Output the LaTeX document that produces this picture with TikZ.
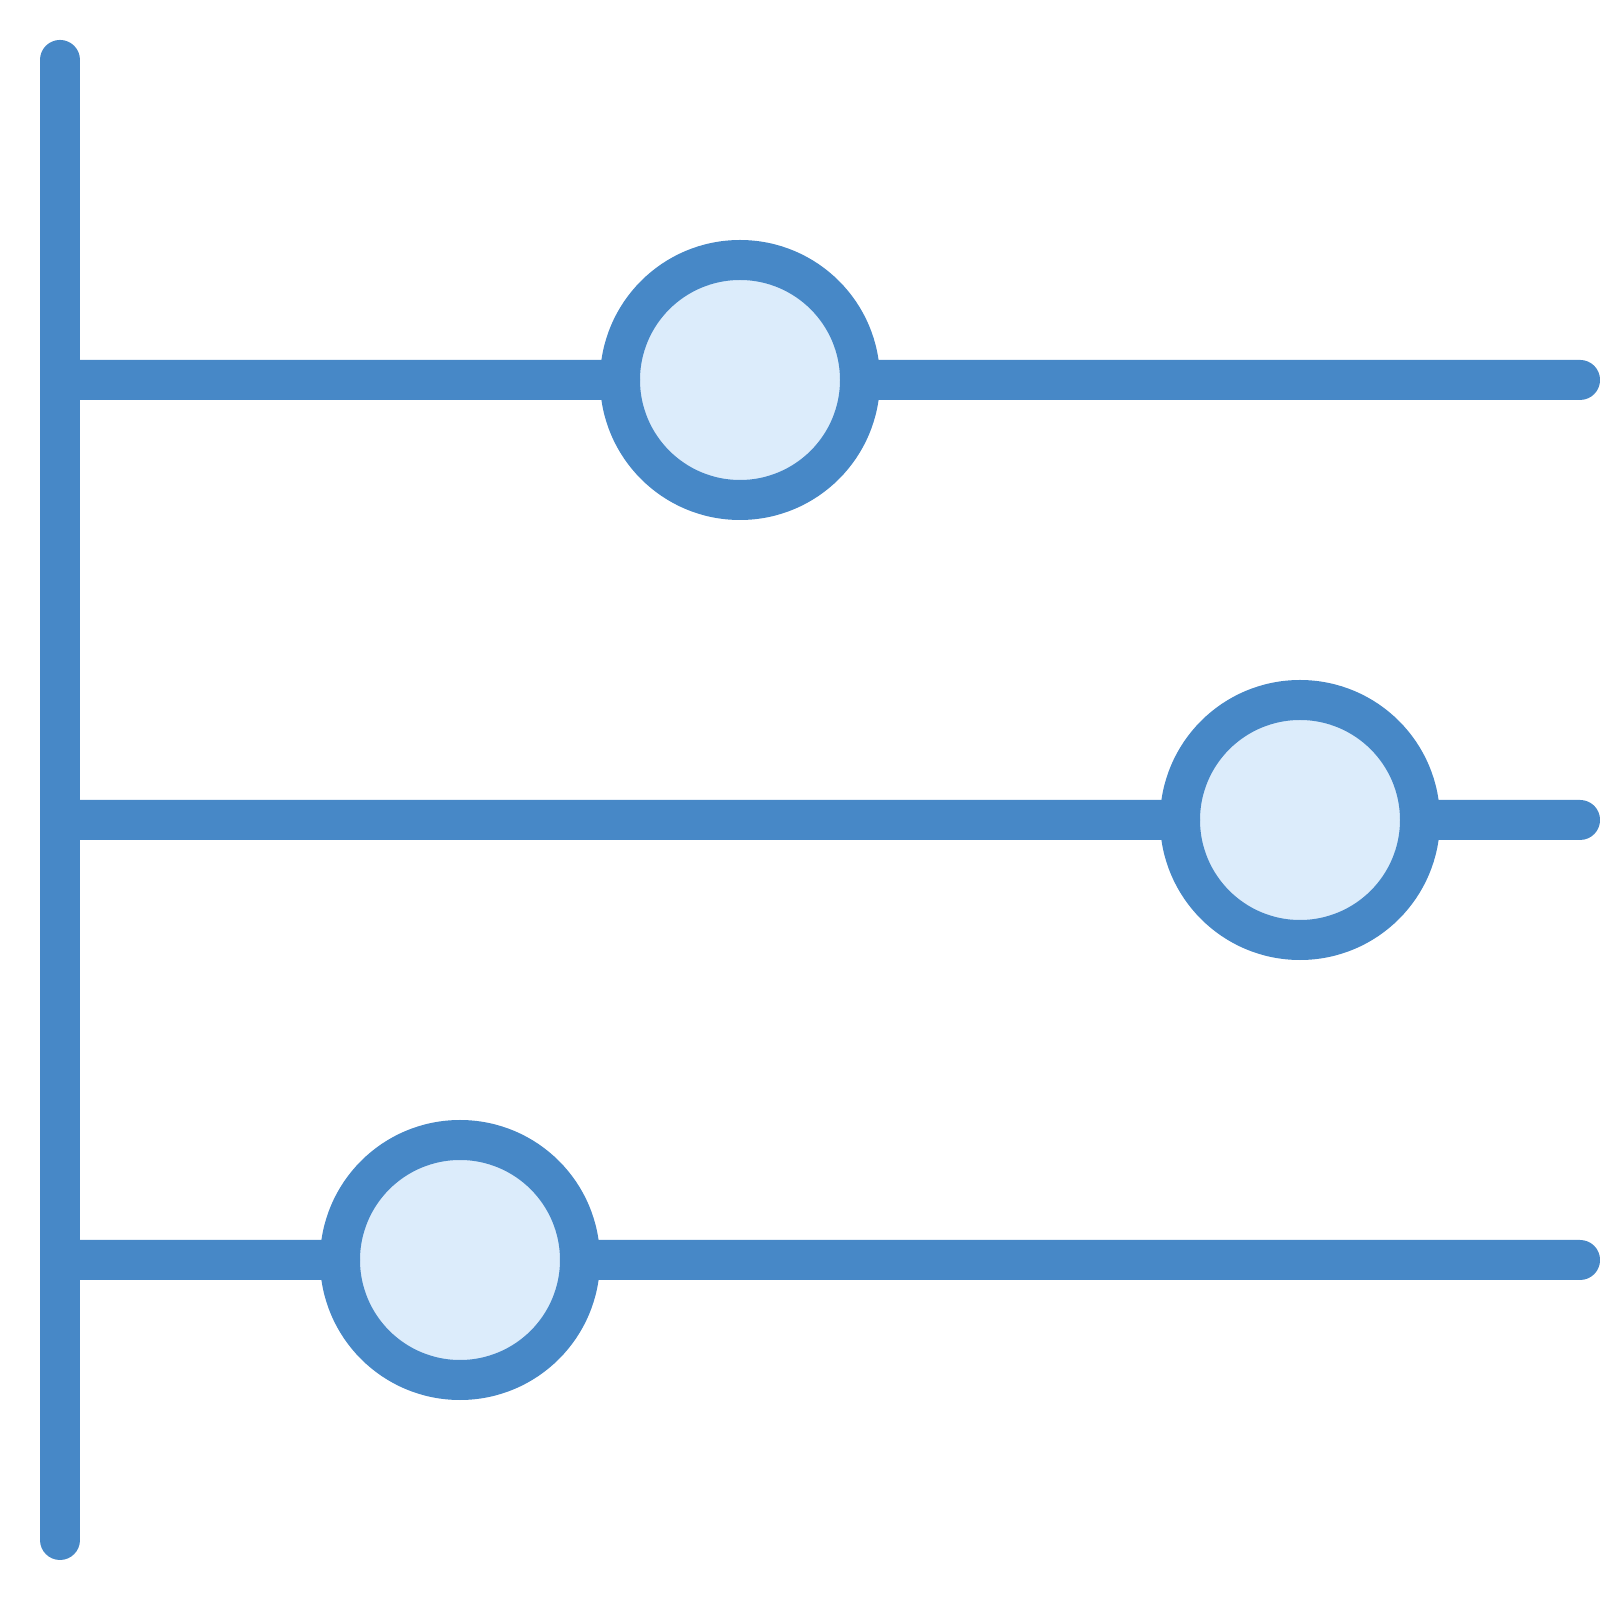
\documentclass[tikz,border=0pt]{standalone}
\usepackage{tikz,pgf}
\definecolor{barblue}{HTML}{4788C7}
\definecolor{dotblue}{HTML}{DCECFB}
\tikzset{
   bar/.style={draw=barblue, line width=0.4cm, line cap=round},
   dot/.style={circle, draw=barblue, fill=dotblue, line width=0.4cm,
      minimum size=2.4cm, inner sep=0pt, outer sep=0pt},
    }
\begin{document}
\begin{tikzpicture}[scale=0.4]
            \useasboundingbox (0,0) rectangle (40,40);
            \coordinate (top) at (1.5,38.5);
            \coordinate (bottom) at (1.5,1.5);
            \coordinate (rowa) at (1.5,30.5);
            \coordinate (rowb) at (1.5,19.5);
            \coordinate (rowc) at (1.5,8.5);
            \coordinate (enda) at (39.5,30.5);
            \coordinate (endb) at (39.5,19.5);
            \coordinate (endc) at (39.5,8.5);
            \node[dot] (dota) at (18.5,30.5) {};
            \node[dot] (dotb) at (32.5,19.5) {};
            \node[dot] (dotc) at (11.5,8.5) {};
            \draw[bar] (top) to (bottom);
            \draw[bar] (rowa) to (dota);
            \draw[bar] (dota) to (enda);
            \draw[bar] (rowb) to (dotb);
            \draw[bar] (dotb) to (endb);
            \draw[bar] (rowc) to (dotc);
            \draw[bar] (dotc) to (endc);
        \end{tikzpicture}
\end{document}
